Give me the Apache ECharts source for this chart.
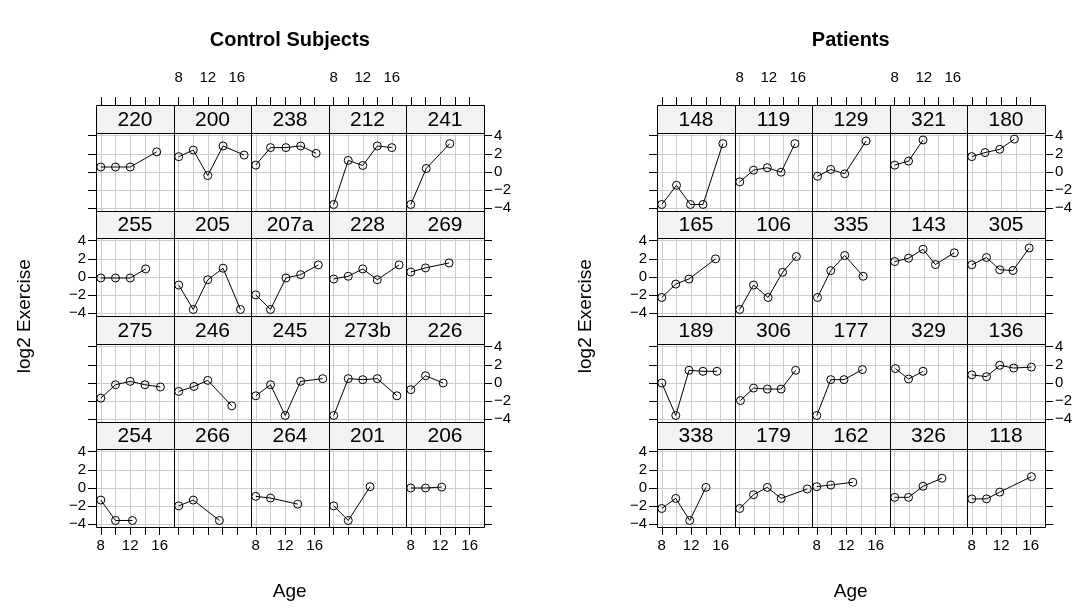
<!DOCTYPE html>
<html>
<head>
<meta charset="utf-8">
<script src="https://cdn.jsdelivr.net/npm/echarts@6/dist/echarts.min.js"></script>
<style>
  html, body { margin: 0; padding: 0; background: #ffffff; }
  #chart { width: 1092px; height: 612px; }
</style>
</head>
<body>
<div id="chart"></div>
<script>
// Blackmore exercise histories: log2(hours of exercise + 5/60) by age, one panel per subject.

const controlSubjects = ['220', '200', '238', '212', '241',
                         '255', '205', '207a', '228', '269',
                         '275', '246', '245', '273b', '226',
                         '254', '266', '264', '201', '206'];
const controlAges = [
  [8, 10, 12, 15.6], [8, 10, 12, 14.1, 17], [8, 10, 12.1, 14.1, 16.2], [8, 10, 12, 14, 16], [8, 10.1, 13.3],
  [8, 10, 12, 14.1], [8, 10, 12, 14.1, 16.5], [8, 10, 12.1, 14.1, 16.5], [8, 10, 12, 14, 17], [8, 10, 13.2],
  [8, 10, 12, 14, 16.1], [8, 10.1, 12, 15.3], [8, 10, 12, 14.1, 17.1], [8, 10, 12, 14, 16.7], [8, 10, 12.4],
  [8, 10, 12.3], [8, 10, 13.6], [8, 10, 13.7], [8, 10, 13], [8, 10, 12.2]
];
const controlLogExercise = [
  [0.55, 0.55, 0.55, 2.22], [1.69, 2.42, -0.39, 2.87, 1.87], [0.76, 2.69, 2.69, 2.87, 2.06], [-3.58, 1.28, 0.72, 2.87, 2.69], [-3.58, 0.39, 3.13],
  [-0.11, -0.11, -0.11, 0.89], [-0.89, -3.58, -0.3, 0.97, -3.58], [-1.97, -3.58, -0.11, 0.26, 1.33], [-0.22, 0.08, 0.89, -0.3, 1.33], [0.55, 1.0, 1.55],
  [-1.67, -0.19, 0.18, -0.19, -0.44], [-0.93, -0.38, 0.29, -2.52], [-1.41, -0.19, -3.58, 0.18, 0.48], [-3.58, 0.48, 0.37, 0.48, -1.41], [-0.74, 0.8, 0.0],
  [-1.33, -3.58, -3.58], [-1.97, -1.33, -3.58], [-0.92, -1.11, -1.78], [-1.97, -3.58, 0.14], [0.0, 0.0, 0.1]
];

const patientSubjects = ['148', '119', '129', '321', '180',
                         '165', '106', '335', '143', '305',
                         '189', '306', '177', '329', '136',
                         '338', '179', '162', '326', '118'];
const patientAges = [
  [8, 10, 11.9, 13.6, 16.3], [8, 9.9, 11.8, 13.7, 15.6], [8.1, 9.9, 11.8, 14.7], [8, 9.9, 11.9], [8, 9.8, 11.8, 13.8],
  [8, 9.9, 11.7, 15.3], [8, 9.9, 11.9, 13.9, 15.8], [8.1, 9.9, 11.8, 14.3], [8, 9.9, 11.9, 13.6, 16.2], [8, 10, 11.8, 13.6, 15.8],
  [8, 9.9, 11.7, 13.6, 15.5], [8.1, 9.9, 11.8, 13.7, 15.7], [8, 9.9, 11.7, 14.2], [8.1, 9.9, 11.9], [8, 10, 11.8, 13.7, 16.1],
  [8, 9.9, 11.8, 14], [8, 9.9, 11.8, 13.7, 17.3], [8, 9.9, 12.9], [8, 9.9, 11.9, 14.5], [8, 10, 11.8, 16.1]
];
const patientLogExercise = [
  [-3.58, -1.47, -3.58, -3.58, 3.13], [-1.09, 0.2, 0.47, -0.02, 3.13], [-0.47, 0.28, -0.2, 3.42], [0.76, 1.2, 3.53], [1.7, 2.14, 2.5, 3.63],
  [-2.26, -0.78, -0.22, 2.0], [-3.58, -0.89, -2.26, 0.52, 2.26], [-2.26, 0.7, 2.37, 0.08], [1.7, 2.07, 3.06, 1.37, 2.67], [1.35, 2.15, 0.8, 0.72, 3.2],
  [0.0, -3.58, 1.4, 1.29, 1.29], [-1.93, -0.56, -0.67, -0.67, 1.4], [-3.58, 0.37, 0.37, 1.48], [1.59, 0.44, 1.29], [0.9, 0.7, 1.95, 1.65, 1.75],
  [-2.26, -1.15, -3.58, 0.07], [-2.26, -0.74, 0.07, -1.15, -0.11], [0.15, 0.33, 0.63], [-1.03, -1.03, 0.19, 1.08], [-1.2, -1.2, -0.45, 1.25]
];

const ageTicks = [8, 10, 12, 14, 16];
const ageTickLabels = [8, 12, 16];
const exerciseTicks = [-4, -2, 0, 2, 4];

const titles = ['Control Subjects', 'Patients'];
const xTitle = 'Age';
const yTitle = 'log2 Exercise';

// Layout of the two 5 x 4 trellis blocks
const FONT = '"Liberation Sans", Arial, Helvetica, sans-serif';
const BLOCK_LEFT = [96, 657];
const COL_W = 77.5;
const STRIP_TOP = 105;
const STRIP_H = 27.6;
const PANEL_H = 78;
const ROW_STEP = 105.6;
const X_RANGE = [7.35, 17.95];
const Y_RANGE = [-4.3, 4.3];
const GRID_COLOR = '#cccccc';
const STRIP_FILL = '#f2f2f2';
const TICK_FONT = 15;

const blocks = [
  { ids: controlSubjects, ages: controlAges, vals: controlLogExercise },
  { ids: patientSubjects, ages: patientAges, vals: patientLogExercise }
];

const minusSign = v => String(v).replace('-', '\u2212');

const grid = [], xAxis = [], yAxis = [], series = [], graphic = [];

blocks.forEach((b, bi) => {
  const left0 = BLOCK_LEFT[bi];
  const blockRight = left0 + 5 * COL_W;
  const blockBottom = STRIP_TOP + 3 * ROW_STEP + STRIP_H + PANEL_H;

  b.ids.forEach((id, k) => {
    const row = Math.floor(k / 5);
    const col = k % 5;
    const gx = Math.round(left0 + col * COL_W);
    const gx2 = Math.round(left0 + (col + 1) * COL_W);
    const sy = Math.round(STRIP_TOP + row * ROW_STEP);
    const gy = Math.round(STRIP_TOP + row * ROW_STEP + STRIP_H);
    const gy2 = Math.round(STRIP_TOP + row * ROW_STEP + STRIP_H + PANEL_H);
    const idx = grid.length;

    grid.push({
      left: gx, top: gy, width: gx2 - gx, height: gy2 - gy,
      show: false
    });

    const isTop = row === 0, isBottom = row === 3;
    xAxis.push({
      gridIndex: idx, type: 'value', min: X_RANGE[0], max: X_RANGE[1],
      position: isTop ? 'top' : 'bottom',
      offset: isTop ? (gy - sy) : 0,
      axisLine: { show: false, onZero: false },
      axisTick: {
        show: isTop || isBottom, inside: false, length: 8,
        customValues: ageTicks, lineStyle: { color: '#000', width: 1 }
      },
      axisLabel: {
        show: (isTop && col % 2 === 1) || (isBottom && col % 2 === 0),
        customValues: ageTickLabels, color: '#000', fontSize: TICK_FONT,
        fontFamily: FONT, margin: isTop ? 20 : 11
      },
      splitLine: { show: true, lineStyle: { color: GRID_COLOR, width: 1 } }
    });

    const isLeft = col === 0, isRight = col === 4;
    yAxis.push({
      gridIndex: idx, type: 'value', min: Y_RANGE[0], max: Y_RANGE[1],
      position: isRight ? 'right' : 'left',
      axisLine: { show: false, onZero: false },
      axisTick: {
        show: isLeft || isRight, inside: false, length: 8,
        customValues: exerciseTicks, lineStyle: { color: '#000', width: 1 }
      },
      axisLabel: {
        show: (isLeft && row % 2 === 1) || (isRight && row % 2 === 0),
        customValues: exerciseTicks, formatter: minusSign,
        color: '#000', fontSize: TICK_FONT, fontFamily: FONT, margin: 10
      },
      splitLine: { show: true, lineStyle: { color: GRID_COLOR, width: 1 } }
    });

    series.push({
      type: 'line', xAxisIndex: idx, yAxisIndex: idx,
      data: b.ages[k].map((a, i) => [a, b.vals[k][i]]),
      symbol: 'circle', symbolSize: 8, showSymbol: true,
      itemStyle: { color: 'rgba(0,0,0,0)', borderColor: '#000', borderWidth: 1 },
      lineStyle: { color: '#000', width: 1 },
      emphasis: { disabled: true },
      silent: true, animation: false, z: 3
    });

    // panel frame
    graphic.push({
      type: 'rect', silent: true, z: 9,
      shape: { x: gx + 0.5, y: gy + 0.5, width: gx2 - gx, height: gy2 - gy },
      style: { fill: 'none', stroke: '#000', lineWidth: 1 }
    });
    // strip with the subject label
    graphic.push({
      type: 'rect', silent: true, z: 10,
      shape: { x: gx + 0.5, y: sy + 0.5, width: gx2 - gx, height: gy - sy },
      style: { fill: STRIP_FILL, stroke: '#000', lineWidth: 1 }
    });
    graphic.push({
      type: 'text', silent: true, z: 11,
      x: (gx + gx2) / 2, y: (sy + gy) / 2 + 1,
      style: { text: id, fill: '#000', font: '21px ' + FONT, align: 'center', verticalAlign: 'middle' }
    });
  });

  const cx = (left0 + blockRight) / 2;
  graphic.push({
    type: 'text', silent: true,
    x: cx, y: 40,
    style: { text: titles[bi], fill: '#000', font: 'bold 20px ' + FONT, align: 'center', verticalAlign: 'middle' }
  });
  graphic.push({
    type: 'text', silent: true,
    x: cx, y: 592,
    style: { text: xTitle, fill: '#000', font: '19px ' + FONT, align: 'center', verticalAlign: 'middle' }
  });
  graphic.push({
    type: 'text', silent: true,
    x: left0 - 71, y: (STRIP_TOP + blockBottom) / 2, rotation: Math.PI / 2,
    style: { text: yTitle, fill: '#000', font: '19px ' + FONT, align: 'center', verticalAlign: 'middle' }
  });
});

const chart = echarts.init(document.getElementById('chart'), null, { renderer: 'canvas' });
chart.setOption({
  animation: false,
  backgroundColor: '#ffffff',
  grid, xAxis, yAxis, series, graphic
});
</script>
</body>
</html>
